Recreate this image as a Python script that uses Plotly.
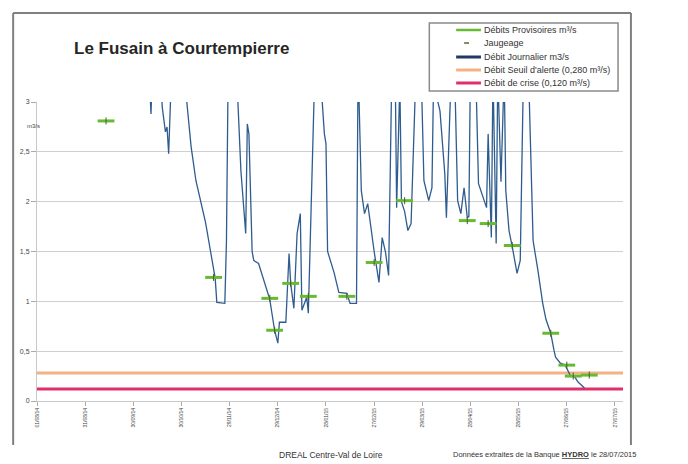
import plotly.graph_objects as go

# ---------------- data ----------------
flow_dates = [
    "2014-10-09", "2014-10-11", "2014-10-12", "2014-10-17", "2014-10-18", "2014-10-20", "2014-10-21",
    "2014-10-22", "2014-10-24", "2014-10-30", "2014-11-02", "2014-11-05", "2014-11-08", "2014-11-11",
    "2014-11-14", "2014-11-17", "2014-11-18", "2014-11-20", "2014-11-21", "2014-11-26", "2014-11-27",
    "2014-11-28", "2014-12-01", "2014-12-04", "2014-12-06", "2014-12-08", "2014-12-09", "2014-12-10",
    "2014-12-11", "2014-12-13", "2014-12-14", "2014-12-17", "2014-12-21", "2014-12-24", "2014-12-26",
    "2014-12-27", "2014-12-29", "2014-12-30", "2015-01-03", "2015-01-05", "2015-01-06", "2015-01-08",
    "2015-01-10", "2015-01-12", "2015-01-13", "2015-01-16", "2015-01-17", "2015-01-19", "2015-01-21",
    "2015-01-24", "2015-01-27", "2015-01-28", "2015-01-29", "2015-02-02", "2015-02-05", "2015-02-10",
    "2015-02-12", "2015-02-16", "2015-02-17", "2015-02-19", "2015-02-21", "2015-02-23", "2015-02-25",
    "2015-02-27", "2015-03-02", "2015-03-04", "2015-03-06", "2015-03-08", "2015-03-10", "2015-03-12",
    "2015-03-13", "2015-03-15", "2015-03-16", "2015-03-18", "2015-03-20", "2015-03-22", "2015-03-25",
    "2015-03-28", "2015-03-30", "2015-04-02", "2015-04-04", "2015-04-05", "2015-04-07", "2015-04-09",
    "2015-04-12", "2015-04-13", "2015-04-16", "2015-04-18", "2015-04-20", "2015-04-22", "2015-04-24",
    "2015-04-26", "2015-04-27", "2015-04-28", "2015-05-01", "2015-05-03", "2015-05-08", "2015-05-09",
    "2015-05-11", "2015-05-12", "2015-05-14", "2015-05-15", "2015-05-17", "2015-05-19", "2015-05-20",
    "2015-05-22", "2015-05-24", "2015-05-27", "2015-05-29", "2015-05-31", "2015-06-03", "2015-06-06",
    "2015-06-09", "2015-06-12", "2015-06-14", "2015-06-17", "2015-06-19", "2015-06-20", "2015-06-23",
    "2015-06-26", "2015-06-29", "2015-07-02", "2015-07-04", "2015-07-08",
]
flow_values = [
    3.6, 2.88, 3.4, 3.3, 2.95, 2.7, 2.75,
    2.48, 3.4, 3.6, 3.05, 2.55, 2.21, 2.01,
    1.79, 1.51, 1.41, 1.23, 0.99, 0.98, 1.6,
    3.2, 3.8, 3.05, 2.31, 1.91, 1.68, 2.78,
    2.68, 1.5, 1.41, 1.38, 1.18, 1.02, 0.81,
    0.71, 0.58, 0.79, 0.79, 1.48, 1.18, 0.93,
    1.68, 1.88, 0.91, 1.04, 0.88, 2.08, 3.3,
    3.4, 2.68, 2.58, 1.5, 1.29, 1.09, 1.08,
    0.98, 0.98, 3.4, 2.11, 1.88, 1.98, 1.71,
    1.5, 1.19, 1.64, 1.5, 1.26, 3.3, 3.5,
    1.94, 3.2, 2.0, 1.9, 1.71, 1.78, 3.3,
    3.5, 2.21, 2.01, 2.14, 3.2, 3.05, 2.91,
    2.28, 1.84, 3.3, 3.4, 2.01, 1.88, 2.14,
    1.84, 1.85, 3.4, 3.5, 2.18, 1.94, 2.68,
    1.64, 3.3, 1.58, 3.3, 2.2, 3.3, 2.11,
    1.71, 1.55, 1.28, 1.41, 3.3, 3.4, 1.61,
    1.31, 0.98, 0.82, 0.68, 0.51, 0.44, 0.38,
    0.36, 0.26, 0.24, 0.19, 0.13,
]

gauging_dates = [
    "2014-09-13", "2014-11-19", "2014-12-24", "2014-12-27", "2015-01-06", "2015-01-17",
    "2015-02-10", "2015-02-27", "2015-03-18", "2015-04-26", "2015-05-09", "2015-05-24",
    "2015-06-17", "2015-06-27", "2015-07-01", "2015-07-11",
]
gauging_values = [
    2.81, 1.24, 1.03, 0.71, 1.18, 1.05,
    1.05, 1.39, 2.01, 1.81, 1.78, 1.56,
    0.68, 0.36, 0.25, 0.26,
]

alert_threshold = 0.28
crisis_threshold = 0.12
period = ["2014-08-01", "2015-08-01"]

x_tick_dates = [
    "2014-08-01", "2014-08-31", "2014-09-30", "2014-10-30", "2014-11-29", "2014-12-29",
    "2015-01-28", "2015-02-27", "2015-03-29", "2015-04-28", "2015-05-28", "2015-06-27", "2015-07-27",
]
x_tick_labels = [
    "01/08/14", "31/08/14", "30/09/14", "30/10/14", "29/11/14", "29/12/14",
    "28/01/15", "27/02/15", "29/03/15", "28/04/15", "28/05/15", "27/06/15", "27/07/15",
]
y_tick_values = [0, 0.5, 1, 1.5, 2, 2.5, 3]

legend_labels = [
    "Débits Provisoires m³/s",
    "Jaugeage",
    "Débit Journalier m3/s",
    "Débit Seuil d'alerte (0,280 m³/s)",
    "Débit de crise (0,120 m³/s)",
]

# ---------------- figure ----------------
# the page adds an 8px body margin, so the figure is 680x456 and
# positions below are given in window pixels then offset.
OFF = 8
W, H = 680, 456
ML, MR, MT, MB = 33 - OFF, 65, 102 - OFF, 63
PW, PH = W - ML - MR, H - MT - MB


def px(x):
    return (x - OFF - ML) / PW


def py(y):
    return (H - MB - (y - OFF)) / PH


C_FLOW = "#2F5C8F"
C_GREEN = "#66BB33"
C_ALERT = "#F4B183"
C_CRISIS = "#E0306A"

fig = go.Figure()

fig.add_trace(go.Scatter(
    x=period, y=[alert_threshold, alert_threshold], mode="lines",
    line=dict(color=C_ALERT, width=3), showlegend=False, hoverinfo="skip"))
fig.add_trace(go.Scatter(
    x=period, y=[crisis_threshold, crisis_threshold], mode="lines",
    line=dict(color=C_CRISIS, width=3), showlegend=False, hoverinfo="skip"))
fig.add_trace(go.Scatter(
    x=flow_dates, y=flow_values, mode="lines",
    line=dict(color=C_FLOW, width=1.3), showlegend=False))
fig.add_trace(go.Scatter(
    x=gauging_dates, y=gauging_values, mode="markers",
    marker=dict(symbol="line-ew", size=12, line=dict(color=C_GREEN, width=3)),
    showlegend=False))
fig.add_trace(go.Scatter(
    x=gauging_dates, y=gauging_values, mode="markers",
    marker=dict(symbol="line-ns", size=5, line=dict(color="#4A5A2A", width=1)),
    showlegend=False))

shapes = []
annotations = []

# outer frame (left, top, right)
for (x0, y0, x1, y1) in [(9, 13, 9, 445), (9, 13, 631, 13), (631, 13, 631, 445)]:
    shapes.append(dict(type="line", xref="paper", yref="paper",
                       x0=px(x0), y0=py(y0), x1=px(x1), y1=py(y1),
                       line=dict(color="#808080", width=2)))

# legend box
shapes.append(dict(type="rect", xref="paper", yref="paper",
                   x0=px(428), y0=py(23), x1=px(618), y1=py(91),
                   line=dict(color="#8a8a8a", width=1.5), fillcolor="white"))
leg_y = [30, 43, 57, 70, 83]
leg_style = [
    (455, 480, C_GREEN, 2.5),
    (463, 468, "#556B2F", 1.5),
    (455, 480, "#1F3864", 3),
    (455, 480, C_ALERT, 3),
    (455, 480, C_CRISIS, 3),
]
for yy, (x0, x1, col, w), lab in zip(leg_y, leg_style, legend_labels):
    shapes.append(dict(type="line", xref="paper", yref="paper",
                       x0=px(x0), x1=px(x1), y0=py(yy), y1=py(yy),
                       line=dict(color=col, width=w)))
    annotations.append(dict(text=lab, xref="paper", yref="paper",
                            x=px(481), y=py(yy), xanchor="left", yanchor="middle",
                            showarrow=False,
                            font=dict(size=9, color="#333333", family="Liberation Sans")))

# title
annotations.append(dict(text="<b>Le Fusain à Courtempierre</b>", xref="paper", yref="paper",
                        x=px(68), y=py(49), xanchor="left", yanchor="middle", showarrow=False,
                        font=dict(size=17, color="#262626", family="Liberation Sans")))
# unit label
annotations.append(dict(text="m3/s", xref="paper", yref="paper",
                        x=px(21), y=py(126), xanchor="left", yanchor="middle", showarrow=False,
                        font=dict(size=6, color="#444444", family="Liberation Sans")))
# footer
annotations.append(dict(text="DREAL Centre-Val de Loire", xref="paper", yref="paper",
                        x=px(275), y=py(455), xanchor="left", yanchor="middle", showarrow=False,
                        font=dict(size=8.5, color="#333333", family="Liberation Sans")))
annotations.append(dict(text="Données extraites de la Banque <b><u>HYDRO</u></b> le 28/07/2015",
                        xref="paper", yref="paper",
                        x=px(450), y=py(455), xanchor="left", yanchor="middle", showarrow=False,
                        font=dict(size=7.5, color="#333333", family="Liberation Sans")))

fig.update_layout(
    width=W, height=H,
    margin=dict(l=ML, r=MR, t=MT, b=MB, pad=0),
    paper_bgcolor="white", plot_bgcolor="white",
    separators=", ",
    showlegend=False,
    shapes=shapes, annotations=annotations,
    font=dict(family="Liberation Sans", color="#333333"),
)
fig.update_xaxes(
    type="date", range=period,
    tickvals=x_tick_dates, ticktext=x_tick_labels, tickangle=-90,
    tickfont=dict(size=5, color="#444444"),
    ticks="outside", ticklen=4, tickcolor="#aaaaaa",
    showgrid=False, showline=True, linecolor="#c8c8c8", linewidth=1,
    zeroline=False,
)
fig.update_yaxes(
    range=[0, 3], tickvals=y_tick_values,
    tickfont=dict(size=7, color="#444444"),
    ticks="outside", ticklen=5, tickcolor="#aaaaaa",
    showgrid=True, gridcolor="#cfcfcf", gridwidth=1,
    showline=True, linecolor="#c8c8c8", linewidth=1,
    zeroline=False,
)

fig.write_html("out.html")
